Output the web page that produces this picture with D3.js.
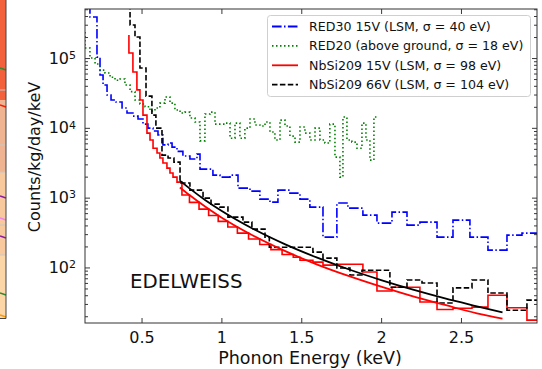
<!DOCTYPE html>
<html>
<head>
<meta charset="utf-8">
<script src="https://cdn.jsdelivr.net/npm/d3@7"></script>
<style>
  html, body { margin: 0; padding: 0; background: #fff; }
  svg { display: block; font-family: "DejaVu Sans", sans-serif; }
</style>
</head>
<body>
<svg id="chart" width="542" height="369"></svg>
<script>
// ---- data (energy in keV = right bin edge, rate in counts/kg/day/keV) ----
const red30E = [0.177,0.221,0.240,0.259,0.284,0.309,0.340,0.378,0.409,0.446,0.478,0.509,0.540,0.572,0.603,0.634,0.666,0.691,0.722,0.759,0.803,0.847,0.866,0.947,0.991,1.054,1.104,1.179,1.241,1.304,1.354,1.429,1.492,1.554,1.636,1.723,1.792,1.886,1.974,2.068,2.162,2.243,2.350,2.450,2.556,2.669,2.788,2.882,3.0];
const red30V = [1e6,3.87e5,1.03e5,5.7e4,4.1e4,2.95e4,2.5e4,2.34e4,1.92e4,1.63e4,1.47e4,1.34e4,1.13e4,9.9e3,9.0e3,7.9e3,5.7e3,6.05e3,5.3e3,4.6e3,3.94e3,3.57e3,4.2e3,2.56e3,2.1e3,1.97e3,2.1e3,1.37e3,1.24e3,953,863,1.28e3,1.16e3,953,732,272,836,708,562,431,621,404,446,272,477,272,177,290,310];

const red20E = [0.146,0.177,0.209,0.240,0.271,0.303,0.334,0.365,0.396,0.428,0.459,0.490,0.522,0.553,0.584,0.615,0.647,0.678,0.709,0.741,0.772,0.803,0.835,0.866,0.897,0.929,0.960,0.991,1.022,1.054,1.085,1.116,1.147,1.179,1.210,1.241,1.273,1.304,1.335,1.367,1.398,1.429,1.461,1.492,1.523,1.554,1.586,1.617,1.648,1.679,1.711,1.742,1.761,1.786,1.817,1.849,1.880,1.905,1.930,1.955,1.980];
const red20V = [2.36e5,1.39e5,1.0e5,8.2e4,6.7e4,6.1e4,5.3e4,4.8e4,5.0e4,4.1e4,3.3e4,2.5e4,2.2e4,2.0e4,1.74e4,1.92e4,2.26e4,2.76e4,2.26e4,1.8e4,1.63e4,1.68e4,1.38e4,1.21e4,6.5e3,1.58e4,1.68e4,1.13e4,1.13e4,1.17e4,7.1e3,1.17e4,7.1e3,9.9e3,1.34e4,1.1e4,1.06e4,1.21e4,8.7e3,6.7e3,1.29e4,1.06e4,7.6e3,6.25e3,1.03e4,8.4e3,6.7e3,9.9e3,6.7e3,6.05e3,1.13e4,3.8e3,1.97e3,1.43e4,6.7e3,6.25e3,5.1e3,1.17e4,6.7e3,3.45e3,1.43e4];

const nb15E = [0.421,0.446,0.471,0.490,0.509,0.534,0.553,0.572,0.597,0.615,0.634,0.659,0.678,0.697,0.722,0.753,0.80,0.86,0.92,0.98,1.04,1.10,1.17,1.24,1.31,1.38,1.45,1.492,1.573,1.636,1.723,1.886,1.974,2.068,2.243,2.350,2.450,2.569,2.669,2.788,2.913,3.0];
const nb15V = [2.14e5,1.18e5,6.3e4,3.5e4,2.5e4,1.52e4,8.4e3,6.7e3,5.1e3,4.35e3,3.69e3,3.13e3,2.65e3,2.25e3,1.97e3,1.67e3,1090,855,685,556,457,380,310,256,213,180,153,140,127,119,108,111,86,46,52,32,25,26,27,40,26.5,17.6];

const nb66E = [0.428,0.459,0.490,0.528,0.565,0.590,0.628,0.666,0.703,0.741,0.803,0.885,0.935,0.991,1.041,1.135,1.191,1.273,1.300,1.573,1.636,1.723,1.805,1.880,2.055,2.162,2.256,2.350,2.450,2.569,2.669,2.788,2.913,3.0];
const nb66V = [1e6,2.97e5,2.0e5,7.2e4,2.85e4,1.52e4,9.9e3,4.07e3,3.69e3,3.23e3,1.62e3,1.28e3,985,808,732,526,446,354,272,195,166,136,98,78,91,52,66,60,31,51,66,43,24.4,34];

// background models
const fitE   = [0.74,0.8,0.9,1.0,1.2,1.4,1.6,1.8,2.0,2.2,2.4,2.6,2.76];
const fit66V = [1750,1357,920,650,356,214,138,93.5,66,48,36,27.8,22.7];
const fit15V = [1400,1090,740,520,285,171,110,75,53,38.5,29,22,18.5];

const xTicks = [0.5, 1, 1.5, 2, 2.5];
const yTicks = [1e2, 1e3, 1e4, 1e5];
const legendLabels = [
  "RED30 15V (LSM, \u03c3 = 40 eV)",
  "RED20 (above ground, \u03c3 = 18 eV)",
  "NbSi209 15V (LSM, \u03c3 = 98 eV)",
  "NbSi209 66V (LSM, \u03c3 = 104 eV)"
];

// ---- layout ----
const svg = d3.select("#chart");
const L = 85, R = 537, T = 9, B = 323;
const x = d3.scaleLinear().domain([0.146, 2.976]).range([L, R]);
const y = d3.scaleLog().domain([16, 5.04e5]).range([B, T]);

// side strip of the neighbouring panel
const strip = svg.append("g");
[["#f2603c",0,100],["#efb492",100,172],["#f7c99c",172,255],["#fcd6a6",255,318]].forEach(([c,a,b]) =>
  strip.append("rect").attr("x",0).attr("y",a).attr("width",6).attr("height",b-a).attr("fill",c));
[90,145,172,225,255].forEach(v => strip.append("line").attr("x1",0).attr("x2",6).attr("y1",v).attr("y2",v).attr("stroke","#c8c8c8").attr("stroke-width",1));
[["#2e8b2e",68],["#ff1a00",105],["#8b1aa0",196],["#ee82ee",218],["#8b1aa0",236],["#2e8b2e",293],["#ff9900",315]].forEach(([c,v]) =>
  strip.append("line").attr("x1",0).attr("x2",6).attr("y1",v).attr("y2",v+2).attr("stroke",c).attr("stroke-width",1.5));
strip.append("path").attr("d","M6,0V318.5H0").attr("fill","none").attr("stroke","#444").attr("stroke-width",1);

svg.append("clipPath").attr("id","plotclip").append("rect")
  .attr("x",L).attr("y",T).attr("width",R-L).attr("height",B-T);

const plot = svg.append("g").attr("clip-path","url(#plotclip)");

const step = (E, V) => d3.line().x((d,i)=>x(E[i])).y((d,i)=>y(V[i])).curve(d3.curveStepBefore)(E);
const smooth = (E, V) => d3.line().x((d,i)=>x(E[i])).y((d,i)=>y(V[i])).curve(d3.curveMonotoneX)(E);

const styles = {
  blue:  {stroke:"#0000ff", dash:"9.6 2.4 1.5 2.4"},
  green: {stroke:"#008000", dash:"1.5 2.5"},
  red:   {stroke:"#ff0000", dash:null},
  black: {stroke:"#000000", dash:"5.5 2.4"}
};

function draw(d, st, w) {
  plot.append("path").attr("d", d).attr("fill","none")
    .attr("stroke", st.stroke).attr("stroke-width", w || 1.6)
    .attr("stroke-dasharray", st.dash);
}
draw(step(red30E, red30V), styles.blue);
draw(step(red20E, red20V), styles.green);
draw(step(nb15E, nb15V), styles.red);
draw(step(nb66E, nb66V), styles.black);
draw(smooth(fitE, fit66V), {stroke:"#000", dash:null}, 1.8);
draw(smooth(fitE, fit15V), {stroke:"#ff0000", dash:null}, 1.8);

// ---- axes: ticks inside on all four sides ----
const tickCol = "#222";
const xAxisB = d3.axisBottom(x).tickValues(xTicks).tickSizeInner(-5).tickSizeOuter(0).tickPadding(9).tickFormat(d => String(d));
const xAxisT = d3.axisTop(x).tickValues(xTicks).tickSizeInner(-5).tickSizeOuter(0).tickFormat("");
const minorY = [];
for (let e = 1; e <= 5; e++) for (let m = 2; m <= 9; m++) { const v = m * Math.pow(10, e); if (v >= 16 && v <= 5e5) minorY.push(v); }

const gxb = svg.append("g").attr("transform",`translate(0,${B})`).call(xAxisB);
const gxt = svg.append("g").attr("transform",`translate(0,${T})`).call(xAxisT);
const gyl = svg.append("g").attr("transform",`translate(${L},0)`).call(d3.axisLeft(y).tickValues(yTicks).tickSizeInner(-5).tickSizeOuter(0).tickPadding(9).tickFormat(""));
const gylm = svg.append("g").attr("transform",`translate(${L},0)`).call(d3.axisLeft(y).tickValues(minorY).tickSizeInner(-3).tickSizeOuter(0).tickFormat(""));
const gyr = svg.append("g").attr("transform",`translate(${R},0)`).call(d3.axisRight(y).tickValues(yTicks).tickSizeInner(-5).tickSizeOuter(0).tickFormat(""));
const gyrm = svg.append("g").attr("transform",`translate(${R},0)`).call(d3.axisRight(y).tickValues(minorY).tickSizeInner(-3).tickSizeOuter(0).tickFormat(""));
[gxb,gxt,gyl,gylm,gyr,gyrm].forEach(g => { g.select(".domain").remove(); g.selectAll("line").attr("stroke",tickCol).attr("stroke-width",0.9); });
gxb.selectAll("text").attr("font-size",16).attr("fill","#111").attr("font-family","DejaVu Sans");

// y tick labels as powers of ten
gyl.selectAll(".tick").each(function(d) {
  const t = d3.select(this).append("text").attr("x",-9).attr("dy","0.32em")
    .attr("text-anchor","end").attr("fill","#111").attr("font-size",16).attr("font-family","DejaVu Sans");
  t.append("tspan").text("10");
  t.append("tspan").attr("dy","-0.45em").attr("font-size",11).text(String(Math.round(Math.log10(d))));
});

// frame
svg.append("rect").attr("x",L).attr("y",T).attr("width",R-L).attr("height",B-T)
  .attr("fill","none").attr("stroke","#333").attr("stroke-width",1);

// axis titles
svg.append("text").attr("x",310).attr("y",364).attr("text-anchor","middle")
  .attr("font-size",17.5).attr("fill","#111").text("Phonon Energy (keV)");
svg.append("text").attr("transform",`translate(40,157) rotate(-90)`).attr("text-anchor","middle")
  .attr("font-size",16).attr("fill","#111").text("Counts/kg/day/keV");

svg.append("text").attr("x",130).attr("y",288).attr("font-size",19.8).attr("fill","#111").text("EDELWEISS");

// legend
const lg = svg.append("g");
lg.append("rect").attr("x",267.5).attr("y",15.5).attr("width",263).attr("height",81).attr("rx",3)
  .attr("fill","#fff").attr("fill-opacity",0.85).attr("stroke","#cfcfcf").attr("stroke-width",1);
const lgStyles = [styles.blue, styles.green, styles.red, styles.black];
legendLabels.forEach((lab, i) => {
  const cy = 26.5 + i * 19.4;
  lg.append("line").attr("x1",272).attr("x2",298).attr("y1",cy).attr("y2",cy)
    .attr("stroke",lgStyles[i].stroke).attr("stroke-width",1.8).attr("stroke-dasharray",lgStyles[i].dash);
  lg.append("text").attr("x",309).attr("y",cy).attr("dy","0.35em").attr("font-size",12.6).attr("fill","#111").text(lab);
});
</script>
</body>
</html>
